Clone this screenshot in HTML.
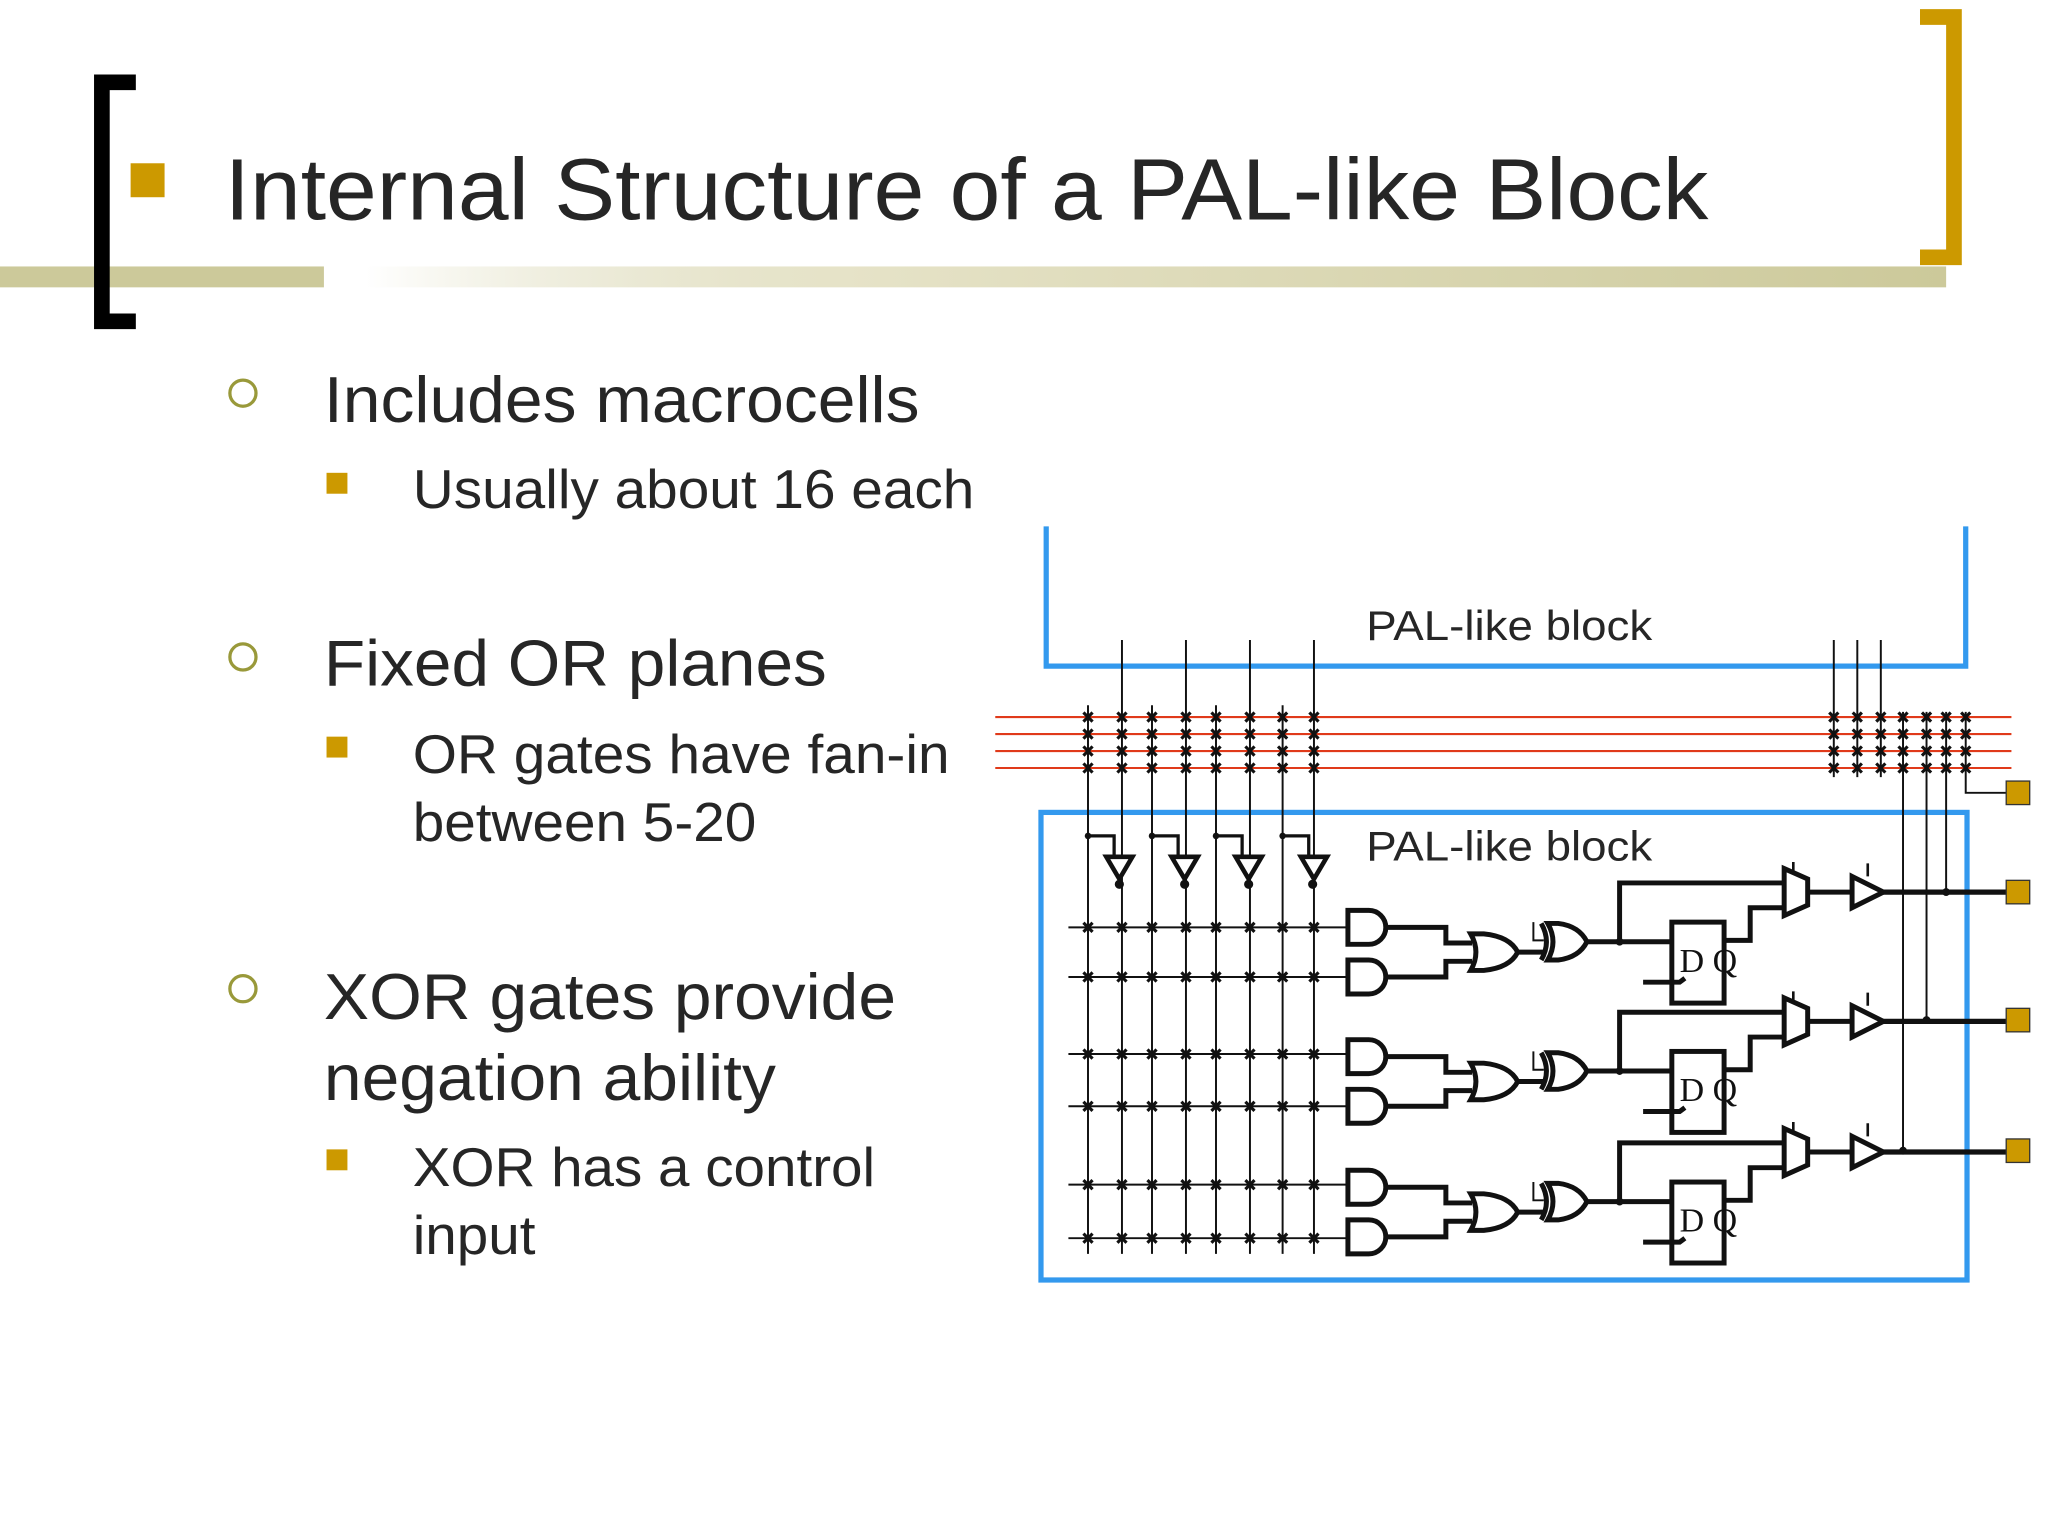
<!DOCTYPE html>
<html><head><meta charset="utf-8"><style>
html,body{margin:0;padding:0;background:#fff}
svg{display:block}
text{font-family:"Liberation Sans",sans-serif;fill:#262626}
</style></head><body>
<svg width="2048" height="1536" viewBox="0 0 1568 1176" xmlns="http://www.w3.org/2000/svg">
<defs>
<linearGradient id="bg" x1="0" x2="1" y1="0" y2="0">
<stop offset="0" stop-color="#ccc99a" stop-opacity="0"/>
<stop offset="0.3" stop-color="#e6e3c8"/>
<stop offset="1" stop-color="#ccc99a"/>
</linearGradient>
<g id="x" stroke="#111" stroke-width="2.4"><path d="M-3.5,-3.5 L3.5,3.5 M3.5,-3.5 L-3.5,3.5"/></g>
<g id="cell" fill="none" stroke="#111" stroke-width="3.8">
<path d="M1032,697 h16 a13,13 0 0 1 0,26 h-16 z" fill="#fff"/>
<path d="M1032,735 h16 a13,13 0 0 1 0,26 h-16 z" fill="#fff"/>
<path d="M1061,710 h46 v12 h20 M1061,748 h46 v-12 h20"/>
<path d="M1126,715 q8,14 0,28 h10 q20,-2 26,-14 q-6,-12 -26,-14 z" fill="#fff"/>
<path d="M1162,729 h20"/>
<path d="M1180,707 q8,14 0,28" />
<path d="M1185,707 q8,14 0,28 h8 q16,-2 22,-14 q-6,-12 -22,-14 z" fill="#fff"/>
<path d="M1174,706 v14 h8" stroke-width="1.5"/>
<path d="M1215,721 h65 M1240,721 v-45 h126 M1320,720 h20 v-25 h26"/>
<rect x="1280" y="706" width="40" height="62" fill="#fff"/>
<path d="M1258,752 h28 l4,-3"/>
<path d="M1366,665 l18,8 v20 l-18,8 z" fill="#fff"/>
<path d="M1373,660 v8 M1430,661 v10" stroke-width="2"/>
<path d="M1384,683 h34"/>
<path d="M1418,671 l24,12 l-24,12 z" fill="#fff"/>
<path d="M1442,683 h94" stroke-width="4"/>
</g>
</defs>
<!-- header -->
<rect x="0" y="204" width="248" height="16" fill="#ccc99a"/>
<rect x="280" y="204" width="1210" height="16" fill="url(#bg)"/>
<path d="M104,63 H78 V246 H104" fill="none" stroke="#000" stroke-width="12"/>
<path d="M1470,13 H1496 V197 H1470" fill="none" stroke="#cc9900" stroke-width="12"/>
<rect x="100" y="125" width="26" height="26" fill="#cc9900"/>
<text x="172" y="168" font-size="67" textLength="1136" lengthAdjust="spacingAndGlyphs">Internal Structure of a PAL-like Block</text>
<!-- bullets -->
<g fill="none" stroke="#99993a" stroke-width="2.5">
<circle cx="186" cy="301" r="10"/><circle cx="186" cy="503" r="10"/><circle cx="186" cy="757" r="10"/></g>
<g fill="#cc9900"><rect x="250" y="362" width="16" height="16"/><rect x="250" y="564" width="16" height="16"/><rect x="250" y="880" width="16" height="16"/></g>
<text x="248" y="323" font-size="50" textLength="456" lengthAdjust="spacingAndGlyphs">Includes macrocells</text>
<text x="316" y="389" font-size="42" textLength="430" lengthAdjust="spacingAndGlyphs">Usually about 16 each</text>
<text x="248" y="525" font-size="50" textLength="385" lengthAdjust="spacingAndGlyphs">Fixed OR planes</text>
<text x="316" y="592" font-size="42" textLength="411" lengthAdjust="spacingAndGlyphs">OR gates have fan-in</text>
<text x="316" y="644" font-size="42" textLength="263" lengthAdjust="spacingAndGlyphs">between 5-20</text>
<text x="248" y="780" font-size="50" textLength="438" lengthAdjust="spacingAndGlyphs">XOR gates provide</text>
<text x="248" y="842" font-size="50" textLength="346" lengthAdjust="spacingAndGlyphs">negation ability</text>
<text x="316" y="908" font-size="42" textLength="354" lengthAdjust="spacingAndGlyphs">XOR has a control</text>
<text x="316" y="960" font-size="42" textLength="94" lengthAdjust="spacingAndGlyphs">input</text>
<!-- diagram -->
<path d="M801,403 V510 H1505 V403" fill="none" stroke="#3399ee" stroke-width="4"/>
<rect x="797" y="622" width="709" height="358" fill="none" stroke="#3399ee" stroke-width="4"/>
<text x="1046" y="490" font-size="32" textLength="219" lengthAdjust="spacingAndGlyphs">PAL-like block</text>
<text x="1046" y="659" font-size="32" textLength="219" lengthAdjust="spacingAndGlyphs">PAL-like block</text>
<g stroke="#e03a1a" stroke-width="1.6">
<path d="M762,549 H1540 M762,562 H1540 M762,575 H1540 M762,588 H1540"/></g>
<g stroke="#111" stroke-width="1.5" fill="none">
<path d="M859,490 V960 M908,490 V960 M957,490 V960 M1006,490 V960"/>
<path d="M833,540 V960 M882,540 V960 M931,540 V960 M982,540 V960"/>
<path d="M1404,490 V595 M1422,490 V595 M1440,490 V595"/>
<path d="M1457,545 V881 M1475,545 V781 M1490,545 V683 M1505,545 V607 H1536"/>
<path d="M818,710 H1032 M818,748 H1032 M818,807 H1032 M818,847 H1032 M818,907 H1032 M818,948 H1032"/>
<path d="M833,640 H853 V655 M882,640 H902 V655 M931,640 H951 V655 M982,640 H1002 V655" stroke-width="2.5"/>
</g>
<g fill="#fff" stroke="#111" stroke-width="3.5">
<path d="M847,656 h20 l-10,17 z"/><path d="M897,656 h20 l-10,17 z"/><path d="M946,656 h20 l-10,17 z"/><path d="M996,656 h20 l-10,17 z"/>
</g>
<g fill="#111"><circle cx="857" cy="677" r="3.5"/><circle cx="907" cy="677" r="3.5"/><circle cx="956" cy="677" r="3.5"/><circle cx="1005" cy="677" r="3.5"/>
<circle cx="833" cy="640" r="2.5"/><circle cx="882" cy="640" r="2.5"/><circle cx="931" cy="640" r="2.5"/><circle cx="982" cy="640" r="2.5"/>
<circle cx="1240" cy="721" r="3"/><circle cx="1240" cy="820" r="3"/><circle cx="1240" cy="920" r="3"/>
<circle cx="1490" cy="683" r="3"/><circle cx="1475" cy="781" r="3"/><circle cx="1457" cy="881" r="3"/></g>
<!-- x marks -->
<g>
<use href="#x" x="833" y="549"/><use href="#x" x="859" y="549"/><use href="#x" x="882" y="549"/><use href="#x" x="908" y="549"/><use href="#x" x="931" y="549"/><use href="#x" x="957" y="549"/><use href="#x" x="982" y="549"/><use href="#x" x="1006" y="549"/>
<use href="#x" x="833" y="562"/><use href="#x" x="859" y="562"/><use href="#x" x="882" y="562"/><use href="#x" x="908" y="562"/><use href="#x" x="931" y="562"/><use href="#x" x="957" y="562"/><use href="#x" x="982" y="562"/><use href="#x" x="1006" y="562"/>
<use href="#x" x="833" y="575"/><use href="#x" x="859" y="575"/><use href="#x" x="882" y="575"/><use href="#x" x="908" y="575"/><use href="#x" x="931" y="575"/><use href="#x" x="957" y="575"/><use href="#x" x="982" y="575"/><use href="#x" x="1006" y="575"/>
<use href="#x" x="833" y="588"/><use href="#x" x="859" y="588"/><use href="#x" x="882" y="588"/><use href="#x" x="908" y="588"/><use href="#x" x="931" y="588"/><use href="#x" x="957" y="588"/><use href="#x" x="982" y="588"/><use href="#x" x="1006" y="588"/>
<use href="#x" x="1404" y="549"/><use href="#x" x="1422" y="549"/><use href="#x" x="1440" y="549"/><use href="#x" x="1457" y="549"/><use href="#x" x="1475" y="549"/><use href="#x" x="1490" y="549"/><use href="#x" x="1505" y="549"/>
<use href="#x" x="1404" y="562"/><use href="#x" x="1422" y="562"/><use href="#x" x="1440" y="562"/><use href="#x" x="1457" y="562"/><use href="#x" x="1475" y="562"/><use href="#x" x="1490" y="562"/><use href="#x" x="1505" y="562"/>
<use href="#x" x="1404" y="575"/><use href="#x" x="1422" y="575"/><use href="#x" x="1440" y="575"/><use href="#x" x="1457" y="575"/><use href="#x" x="1475" y="575"/><use href="#x" x="1490" y="575"/><use href="#x" x="1505" y="575"/>
<use href="#x" x="1404" y="588"/><use href="#x" x="1422" y="588"/><use href="#x" x="1440" y="588"/><use href="#x" x="1457" y="588"/><use href="#x" x="1475" y="588"/><use href="#x" x="1490" y="588"/><use href="#x" x="1505" y="588"/>
<use href="#x" x="833" y="710"/><use href="#x" x="859" y="710"/><use href="#x" x="882" y="710"/><use href="#x" x="908" y="710"/><use href="#x" x="931" y="710"/><use href="#x" x="957" y="710"/><use href="#x" x="982" y="710"/><use href="#x" x="1006" y="710"/>
<use href="#x" x="833" y="748"/><use href="#x" x="859" y="748"/><use href="#x" x="882" y="748"/><use href="#x" x="908" y="748"/><use href="#x" x="931" y="748"/><use href="#x" x="957" y="748"/><use href="#x" x="982" y="748"/><use href="#x" x="1006" y="748"/>
<use href="#x" x="833" y="807"/><use href="#x" x="859" y="807"/><use href="#x" x="882" y="807"/><use href="#x" x="908" y="807"/><use href="#x" x="931" y="807"/><use href="#x" x="957" y="807"/><use href="#x" x="982" y="807"/><use href="#x" x="1006" y="807"/>
<use href="#x" x="833" y="847"/><use href="#x" x="859" y="847"/><use href="#x" x="882" y="847"/><use href="#x" x="908" y="847"/><use href="#x" x="931" y="847"/><use href="#x" x="957" y="847"/><use href="#x" x="982" y="847"/><use href="#x" x="1006" y="847"/>
<use href="#x" x="833" y="907"/><use href="#x" x="859" y="907"/><use href="#x" x="882" y="907"/><use href="#x" x="908" y="907"/><use href="#x" x="931" y="907"/><use href="#x" x="957" y="907"/><use href="#x" x="982" y="907"/><use href="#x" x="1006" y="907"/>
<use href="#x" x="833" y="948"/><use href="#x" x="859" y="948"/><use href="#x" x="882" y="948"/><use href="#x" x="908" y="948"/><use href="#x" x="931" y="948"/><use href="#x" x="957" y="948"/><use href="#x" x="982" y="948"/><use href="#x" x="1006" y="948"/>
</g>
<use href="#cell"/>
<use href="#cell" y="99"/>
<use href="#cell" y="199"/>
<g font-size="26">
<text x="1286" y="744" style="font-family:'Liberation Serif',serif;fill:#111">D Q</text>
<text x="1286" y="843" style="font-family:'Liberation Serif',serif;fill:#111">D Q</text>
<text x="1286" y="943" style="font-family:'Liberation Serif',serif;fill:#111">D Q</text></g>
<g fill="#cc9900" stroke="#333" stroke-width="1">
<rect x="1536" y="598" width="18" height="18"/><rect x="1536" y="674" width="18" height="18"/><rect x="1536" y="772" width="18" height="18"/><rect x="1536" y="872" width="18" height="18"/></g>
</svg>
</body></html>
